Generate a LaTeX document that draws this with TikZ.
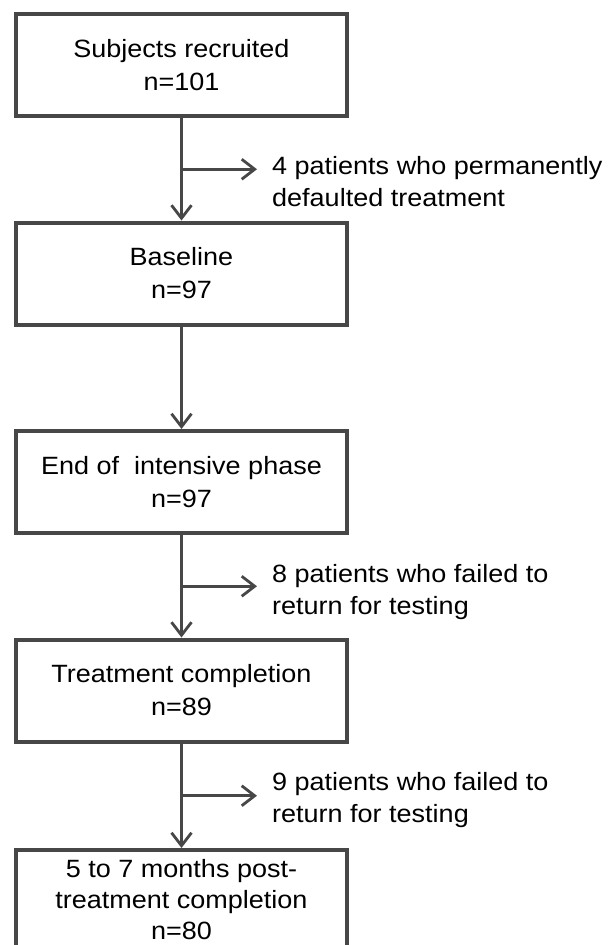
\documentclass[tikz,border=0pt]{standalone}
\usepackage{fontspec}
\setmainfont{Liberation Sans}[FakeStretch=1.08]
\usetikzlibrary{positioning,calc,arrows.meta}

\tikzset{
  box/.style={draw=black!72,line width=4pt,minimum width=331pt,minimum height=102pt,
    inner sep=0pt,align=center,font=\fontsize{25}{33}\selectfont},
  note/.style={anchor=west,align=left,inner sep=0pt,font=\fontsize{25}{32}\selectfont},
  flow/.style={draw=black!72,line width=2.8pt,-{Straight Barb[length=13pt,width=20pt]}}
}

\begin{document}
\begin{tikzpicture}[x=1pt,y=1pt,node distance=208.5pt]
        \useasboundingbox (0,0) rectangle (609,-945);
        \node[box] (rec) at (181.5,-65) {Subjects recruited\\n=101};
        \node[box] (base) [below of=rec] {Baseline\\n=97};
        \node[box] (inten) [below of=base] {End of~ intensive phase\\n=97};
        \node[box] (compl) [below of=inten] {Treatment completion\\n=89};
        \node[box,minimum height=100pt,font=\fontsize{25}{31}\selectfont] (post) [below of=compl,yshift=-1pt] {5 to 7 months post-\\treatment completion\\n=80};

        \coordinate (j1) at ($(rec.south)!.5!(base.north)$);
        \coordinate (j2) at ($(inten.south)!.5!(compl.north)$);
        \coordinate (j3) at ($(compl.south)!.5!(post.north)$);

        \node[note] (n1) at ([xshift=90.5pt,yshift=-12pt]j1) {4 patients who permanently\\defaulted treatment};
        \node[note] (n2) at ([xshift=90.5pt,yshift=-5.5pt]j2) {8 patients who failed to\\return for testing};
        \node[note] (n3) at ([xshift=90.5pt,yshift=-4.5pt]j3) {9 patients who failed to\\return for testing};

        \draw[flow] (rec) -- (base);
        \draw[flow] (base) -- (inten);
        \draw[flow] (inten) -- (compl);
        \draw[flow] (compl) -- (post);
        \draw[flow,shorten >=15pt] (j1) -- (j1 -| n1.west);
        \draw[flow,shorten >=15pt] (j2) -- (j2 -| n2.west);
        \draw[flow,shorten >=15pt] (j3) -- (j3 -| n3.west);
\end{tikzpicture}
\end{document}
